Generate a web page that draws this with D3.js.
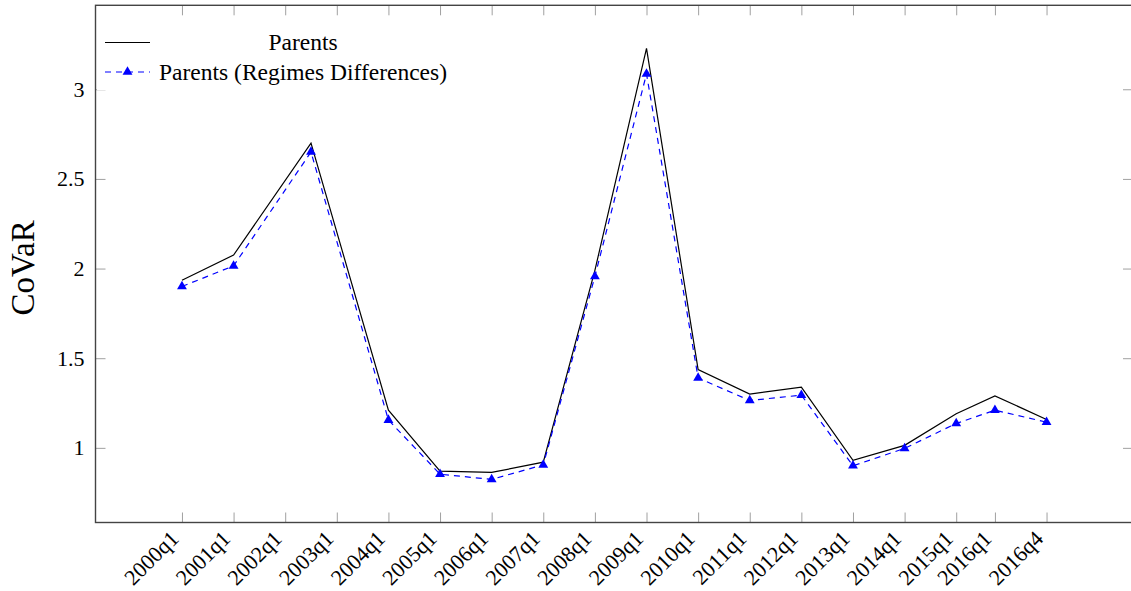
<!DOCTYPE html>
<html>
<head>
<meta charset="utf-8">
<script src="https://cdn.jsdelivr.net/npm/d3@7"></script>
<style>
  body { margin: 0; background: #fff; }
  text { font-family: "Liberation Serif", "DejaVu Serif", serif; fill: #000; }
  .tick line { stroke: #a0a0a0; stroke-width: 1; }
</style>
</head>
<body>
<div class="chart"></div>
<script>
// quarter positions (in years) of each observation
var quarters = [2000, 2001, 2002.5, 2004, 2005, 2006, 2007, 2008, 2009, 2010,
                2011, 2012, 2013, 2014, 2015, 2015.75, 2016.75];
var parents = [1.935, 2.075, 2.70, 1.21, 0.87, 0.863, 0.92, 1.99, 3.228, 1.437,
               1.30, 1.339, 0.93, 1.014, 1.19, 1.29, 1.158];
var regimes = [1.90, 2.015, 2.65, 1.155, 0.853, 0.824, 0.905, 1.956, 3.086, 1.39,
               1.264, 1.294, 0.90, 0.997, 1.136, 1.21, 1.143];

var xTickPos = [2000, 2001, 2002, 2003, 2004, 2005, 2006, 2007, 2008, 2009, 2010,
                2011, 2012, 2013, 2014, 2015, 2015.75, 2016.75];
var xTickLabels = ["2000q1", "2001q1", "2002q1", "2003q1", "2004q1", "2005q1", "2006q1",
                   "2007q1", "2008q1", "2009q1", "2010q1", "2011q1", "2012q1", "2013q1",
                   "2014q1", "2015q1", "2016q1", "2016q4"];
var yTicks = [1, 1.5, 2, 2.5, 3];

var seriesNames = ["Parents", "Parents (Regimes Differences)"];

var svgWidth = 1131;
var svgHeight = 591;

var frame = { left: 95.5, top: 5.3, right: 1133, bottom: 522.5 };

var svg = d3.select(".chart")
  .append("svg")
  .attr("width", svgWidth)
  .attr("height", svgHeight);

// pgfplots style: enlarge limits by 10% of data range
var xMin = d3.min(quarters), xMax = d3.max(quarters);
var xPad = (xMax - xMin) * 0.1;
var allY = parents.concat(regimes);
var yMin = d3.min(allY), yMax = d3.max(allY);
var yPad = (yMax - yMin) * 0.1;

var x = d3.scaleLinear()
  .domain([xMin - xPad, xMax + xPad])
  .range([frame.left, frame.right]);

var y = d3.scaleLinear()
  .domain([yMin - yPad, yMax + yPad])
  .range([frame.bottom, frame.top]);

// axes (ticks point inward)
var bottomAxis = d3.axisBottom(x)
  .tickValues(xTickPos)
  .tickFormat((d, i) => xTickLabels[i])
  .tickSizeInner(-10).tickSizeOuter(0);

var xAxisG = svg.append("g")
  .attr("transform", `translate(0, ${frame.bottom})`)
  .call(bottomAxis);
xAxisG.select(".domain").remove();
xAxisG.selectAll(".tick text")
  .attr("font-size", 22)
  .attr("font-family", null)
  .attr("text-anchor", "end")
  .attr("dy", "0.35em")
  .attr("y", 0)
  .attr("transform", "translate(-8, 12) rotate(-45)");

svg.append("g")
  .attr("transform", `translate(0, ${frame.top})`)
  .call(d3.axisTop(x).tickValues(xTickPos).tickFormat("").tickSizeInner(-10).tickSizeOuter(0))
  .select(".domain").remove();

var leftAxis = d3.axisLeft(y)
  .tickValues(yTicks)
  .tickFormat(d3.format("~g"))
  .tickSizeInner(-10).tickSizeOuter(0);

var yAxisG = svg.append("g")
  .attr("transform", `translate(${frame.left}, 0)`)
  .call(leftAxis);
yAxisG.select(".domain").remove();
yAxisG.selectAll(".tick text")
  .attr("font-size", 22)
  .attr("font-family", null)
  .attr("x", -11);

svg.append("g")
  .attr("transform", `translate(${frame.right}, 0)`)
  .call(d3.axisRight(y).tickValues(yTicks).tickFormat("").tickSizeInner(-10).tickSizeOuter(0))
  .select(".domain").remove();

// frame
svg.append("rect")
  .attr("x", frame.left)
  .attr("y", frame.top)
  .attr("width", frame.right - frame.left)
  .attr("height", frame.bottom - frame.top)
  .attr("fill", "none")
  .attr("stroke", "#444")
  .attr("stroke-width", 1.4);

// y axis label
svg.append("text")
  .attr("transform", `translate(34, ${(frame.top + frame.bottom) / 2 + 4}) rotate(-90)`)
  .attr("text-anchor", "middle")
  .attr("font-size", 33)
  .text("CoVaR");

// lines
var seriesLine = d3.line()
  .x((d, i) => x(quarters[i]))
  .y(d => y(d));

svg.append("path")
  .datum(parents)
  .attr("d", seriesLine)
  .attr("fill", "none")
  .attr("stroke", "#000")
  .attr("stroke-width", 1.2);

svg.append("path")
  .datum(regimes)
  .attr("d", seriesLine)
  .attr("fill", "none")
  .attr("stroke", "#0000ff")
  .attr("stroke-width", 1.2)
  .attr("stroke-dasharray", "6,5");

var tri = d3.symbol().type(d3.symbolTriangle).size(42);

svg.selectAll(".mark")
  .data(regimes)
  .enter()
  .append("path")
  .attr("class", "mark")
  .attr("d", tri)
  .attr("transform", (d, i) => `translate(${x(quarters[i])}, ${y(d)})`)
  .attr("fill", "#0000ff");

// legend
var legend = svg.append("g");
legend.append("rect")
  .attr("x", 97).attr("y", 22)
  .attr("width", 360).attr("height", 68)
  .attr("fill", "#fff");

legend.append("line")
  .attr("x1", 105).attr("x2", 150)
  .attr("y1", 42.5).attr("y2", 42.5)
  .attr("stroke", "#000").attr("stroke-width", 1.2);

legend.append("line")
  .attr("x1", 105).attr("x2", 150)
  .attr("y1", 72).attr("y2", 72)
  .attr("stroke", "#0000ff").attr("stroke-width", 1.2)
  .attr("stroke-dasharray", "6,5");

legend.append("path")
  .attr("d", tri)
  .attr("transform", "translate(127.5, 72)")
  .attr("fill", "#0000ff");

legend.selectAll(".legtext")
  .data(seriesNames)
  .enter()
  .append("text")
  .attr("class", "legtext")
  .attr("x", 303)
  .attr("y", (d, i) => 42.5 + i * 29.5)
  .attr("dy", "0.33em")
  .attr("text-anchor", "middle")
  .attr("font-size", 23.5)
  .text(d => d);
</script>
</body>
</html>
